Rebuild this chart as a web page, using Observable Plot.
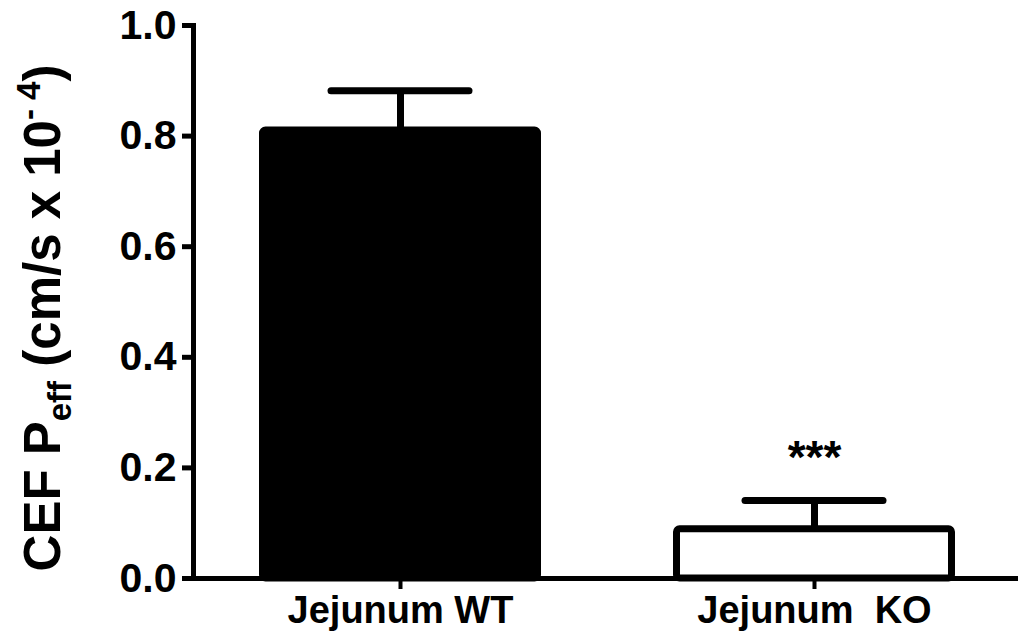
<!DOCTYPE html>
<html>
<head>
<meta charset="utf-8">
<script src="https://cdn.jsdelivr.net/npm/d3@7"></script>
<script src="https://cdn.jsdelivr.net/npm/@observablehq/plot@0.6"></script>
<style>
  html, body { margin: 0; padding: 0; background: #fff; }
  svg { white-space: pre; }
</style>
</head>
<body>
<div id="chart"></div>
<script>
// ---- data ----
const categories = ["Jejunum WT", "Jejunum  KO"];
const means = [0.81, 0.089];
const sems = [0.072, 0.052];
const fills = ["black", "white"];
const annotations = ["", "***"];
const yTicks = [0, 0.2, 0.4, 0.6, 0.8, 1.0];

const data = categories.map((c, i) => ({
  cat: c, mean: means[i], top: means[i] + sems[i], fill: fills[i], note: annotations[i]
}));

const font = "'Liberation Sans', Arial, Helvetica, sans-serif";

const plot = Plot.plot({
  width: 1018,
  height: 637,
  marginLeft: 193,
  marginRight: 0,
  marginTop: 25,
  marginBottom: 59,
  style: { fontFamily: font, background: "white", color: "black", overflow: "visible" },
  x: { type: "band", domain: categories, range: [193, 1021], paddingInner: 0.32, paddingOuter: 0.16, align: 0.5, label: null },
  y: { domain: [0, 1], label: null },
  marks: [
    Plot.ruleX(data, { x: "cat", y1: "mean", y2: "top", stroke: "black", strokeWidth: 7 }),
    Plot.tickY(data, { x: "cat", y: "top", stroke: "black", strokeWidth: 7, strokeLinecap: "round", insetLeft: 72, insetRight: 72 }),
    Plot.barY(data, { x: "cat", y: "mean", fill: "fill", stroke: "black", strokeWidth: 7, strokeLinejoin: "round", insetLeft: 3.5, insetRight: 3.5, rx: 3 }),
    Plot.text(data, { x: "cat", y: "top", text: "note", dy: -28, lineAnchor: "bottom", fontSize: 46, fontWeight: "bold", fill: "black" }),
    Plot.ruleY([0], { stroke: "black", strokeWidth: 5 }),
    Plot.frame({ anchor: "left", stroke: "black", strokeWidth: 5 }),
    Plot.axisY({ ticks: yTicks, tickFormat: d3.format(".1f"), tickSize: 11, tickPadding: 6, strokeWidth: 5, fontSize: 41, fontWeight: "bold", label: null }),
    Plot.axisX({ tickSize: 11, tickPadding: 7, strokeWidth: 4, fontSize: 38, fontWeight: "bold", label: null })
  ]
});

document.getElementById("chart").appendChild(plot);

// y-axis title with subscript and superscript
const svg = d3.select(plot);
const title = svg.append("text")
  .attr("transform", "translate(60,318) rotate(-90)")
  .attr("text-anchor", "middle")
  .attr("font-family", font)
  .attr("font-weight", "bold")
  .attr("font-size", 51)
  .attr("fill", "black");
title.append("tspan").text("CEF P");
title.append("tspan").attr("font-size", 33).attr("dy", 11).text("eff");
title.append("tspan").attr("dy", -11).text(" (cm/s x 10");
title.append("tspan").attr("font-size", 33).attr("dy", -20).text("- 4");
title.append("tspan").attr("dy", 20).text(")");
</script>
</body>
</html>
